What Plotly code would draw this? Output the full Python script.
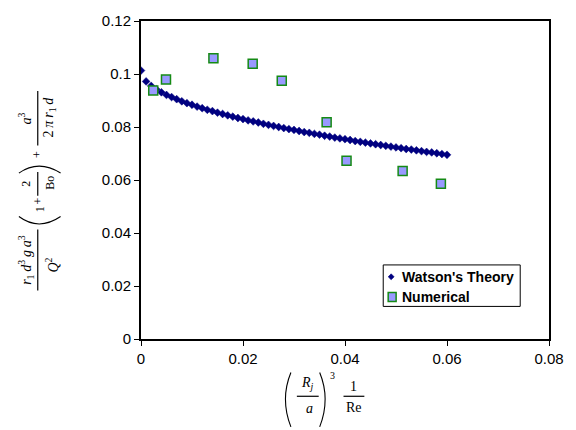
import plotly.graph_objects as go

# Watson's theory curve, sampled every 0.001 along the x axis
theory_x = [0.000, 0.001, 0.002, 0.003, 0.004, 0.005, 0.006, 0.007, 0.008, 0.009,
            0.010, 0.011, 0.012, 0.013, 0.014, 0.015, 0.016, 0.017, 0.018, 0.019,
            0.020, 0.021, 0.022, 0.023, 0.024, 0.025, 0.026, 0.027, 0.028, 0.029,
            0.030, 0.031, 0.032, 0.033, 0.034, 0.035, 0.036, 0.037, 0.038, 0.039,
            0.040, 0.041, 0.042, 0.043, 0.044, 0.045, 0.046, 0.047, 0.048, 0.049,
            0.050, 0.051, 0.052, 0.053, 0.054, 0.055, 0.056, 0.057, 0.058, 0.059,
            0.060]
theory_y = [0.1013, 0.0972, 0.0955, 0.0942, 0.0931, 0.0921, 0.0913, 0.0905, 0.0897, 0.0890,
            0.0884, 0.0877, 0.0871, 0.0865, 0.0860, 0.0854, 0.0849, 0.0844, 0.0839, 0.0834,
            0.0830, 0.0825, 0.0821, 0.0817, 0.0812, 0.0808, 0.0804, 0.0800, 0.0796, 0.0792,
            0.0789, 0.0785, 0.0781, 0.0778, 0.0774, 0.0771, 0.0767, 0.0764, 0.0760, 0.0757,
            0.0754, 0.0751, 0.0747, 0.0744, 0.0741, 0.0738, 0.0735, 0.0732, 0.0729, 0.0726,
            0.0723, 0.0720, 0.0717, 0.0715, 0.0712, 0.0709, 0.0706, 0.0704, 0.0701, 0.0698,
            0.0695]

# Numerical simulation results
numerical_x = [0.0024, 0.0049, 0.0142, 0.0219, 0.0276, 0.0364, 0.0403, 0.0513, 0.0588]
numerical_y = [0.0938, 0.0979, 0.1059, 0.1039, 0.0975, 0.0818, 0.0673, 0.0634, 0.0586]

x_ticks = [0, 0.02, 0.04, 0.06, 0.08]
y_ticks = [0, 0.02, 0.04, 0.06, 0.08, 0.1, 0.12]
series_names = ["Watson's Theory", "Numerical"]

W, H = 576, 430
ML, MR, MT, MB = 141, 24, 17, 91
PW, PH = W - ML - MR, H - MT - MB


def px(x):
    """pixel column -> paper x"""
    return (x - ML) / PW


def py(y):
    """pixel row -> paper y"""
    return (H - MB - y) / PH


NAVY = "#000080"
SQ_FILL = "#9999FF"
SQ_LINE = "#158a15"
SERIF = "Liberation Serif"
SANS = "Liberation Sans"
TS = "\u2009"  # thin space used to open up the formula glyphs

fig = go.Figure()
fig.add_trace(go.Scatter(
    x=theory_x, y=theory_y, mode="markers", name=series_names[0], showlegend=False,
    marker=dict(symbol="diamond", size=6, color=NAVY, line=dict(width=0.5, color=NAVY)),
))
fig.add_trace(go.Scatter(
    x=numerical_x, y=numerical_y, mode="markers", name=series_names[1], showlegend=False,
    marker=dict(symbol="square", size=9, color=SQ_FILL, line=dict(width=1.5, color=SQ_LINE)),
))

shapes = []
annotations = []


def text(x, y, s, size=14, angle=0, family=SERIF):
    annotations.append(dict(
        x=px(x), y=py(y), xref="paper", yref="paper", text=s, showarrow=False,
        xanchor="center", yanchor="middle", textangle=angle,
        font=dict(family=family, size=size, color="black"),
    ))


def line(x0, y0, x1, y1, w=1.2):
    shapes.append(dict(type="line", xref="paper", yref="paper",
                       x0=px(x0), y0=py(y0), x1=px(x1), y1=py(y1),
                       line=dict(color="black", width=w)))


def arc(x0, y0, cx, cy, x1, y1, w=1.1):
    path = f"M {px(x0)},{py(y0)} Q {px(cx)},{py(cy)} {px(x1)},{py(y1)}"
    shapes.append(dict(type="path", xref="paper", yref="paper", path=path,
                       line=dict(color="black", width=w)))


# ---- x-axis title: (R_j / a)^3 * 1/Re ----
arc(292, 373, 281, 400, 292, 428)
arc(321, 373, 332, 400, 321, 428)
text(309, 384, "<i>R</i><sub><i>j</i></sub>", size=14)
line(298, 397, 320, 397)
text(311, 409, "<i>a</i>", size=14)
text(334, 376, "3", size=10)
text(355, 387, "1", size=14)
line(345, 397, 366, 397)
text(356, 408, "Re", size=14)

# ---- y-axis title (rotated) ----
# r1 d^3 g a^3 / Q^2
text(25, 259, f"<i>r</i><sub>1</sub>{TS}<i>d</i><sup>3</sup>{TS}<i>g</i>{TS}<i>a</i><sup>3</sup>",
     size=14, angle=-90)
line(37, 228, 37, 290)
text(51, 264, "<i>Q</i><sup>2</sup>", size=14, angle=-90)
# ( 1 + 2/Bo )
arc(18, 215, 38, 230, 60, 215)
text(39, 208, "1", size=12, angle=-90)
text(37, 199, "+", size=12, angle=-90)
text(25, 182, "2", size=12, angle=-90)
line(37, 170, 37, 194)
text(49, 181, "Bo", size=12, angle=-90)
arc(18, 171, 38, 157, 60, 171)
# + a^3 / (2 pi r1 d)
text(37, 152, "+", size=12, angle=-90)
text(24, 116, "<i>a</i><sup>3</sup>", size=14, angle=-90)
line(37, 88, 37, 143)
text(49, 114, f"2{TS}<i>π</i>{TS}<i>r</i><sub>1</sub>{TS}<i>d</i>", size=14, angle=-90)

# ---- legend box ----
shapes.append(dict(type="rect", xref="paper", yref="paper",
                   x0=px(385), y0=py(306), x1=px(523), y1=py(264),
                   line=dict(color="black", width=1), fillcolor="white", layer="above"))
shapes.append(dict(type="path", xref="paper", yref="paper",
                   path=(f"M {px(393)},{py(273)} L {px(396)},{py(276)} "
                         f"L {px(393)},{py(279)} L {px(390)},{py(276)} Z"),
                   line=dict(color=NAVY, width=0.6), fillcolor=NAVY, layer="above"))
shapes.append(dict(type="rect", xref="paper", yref="paper",
                   x0=px(390), y0=py(301), x1=px(398), y1=py(292),
                   line=dict(color=SQ_LINE, width=1.5), fillcolor=SQ_FILL, layer="above"))
for name, row in zip(series_names, [276, 296.5]):
    annotations.append(dict(
        x=px(402), y=py(row), xref="paper", yref="paper", text=f"<b>{name}</b>",
        showarrow=False, xanchor="left", yanchor="middle",
        font=dict(family=SANS, size=14, color="black"),
    ))

axis_common = dict(
    showline=True, linecolor="black", linewidth=2, mirror=True,
    ticks="outside", ticklen=5, tickwidth=1, tickcolor="black",
    showgrid=False, zeroline=False,
    tickfont=dict(family=SANS, size=15, color="black"),
)

fig.update_layout(
    width=W, height=H,
    margin=dict(l=ML, r=MR, t=MT, b=MB),
    paper_bgcolor="white", plot_bgcolor="white",
    showlegend=False,
    xaxis=dict(range=[0, 0.08], tickvals=x_ticks, ticktext=[str(v) for v in x_ticks],
               **axis_common),
    yaxis=dict(range=[0, 0.12], tickvals=y_ticks, ticktext=[str(v) for v in y_ticks],
               **axis_common),
    shapes=shapes,
    annotations=annotations,
)

fig.write_html("out.html")
